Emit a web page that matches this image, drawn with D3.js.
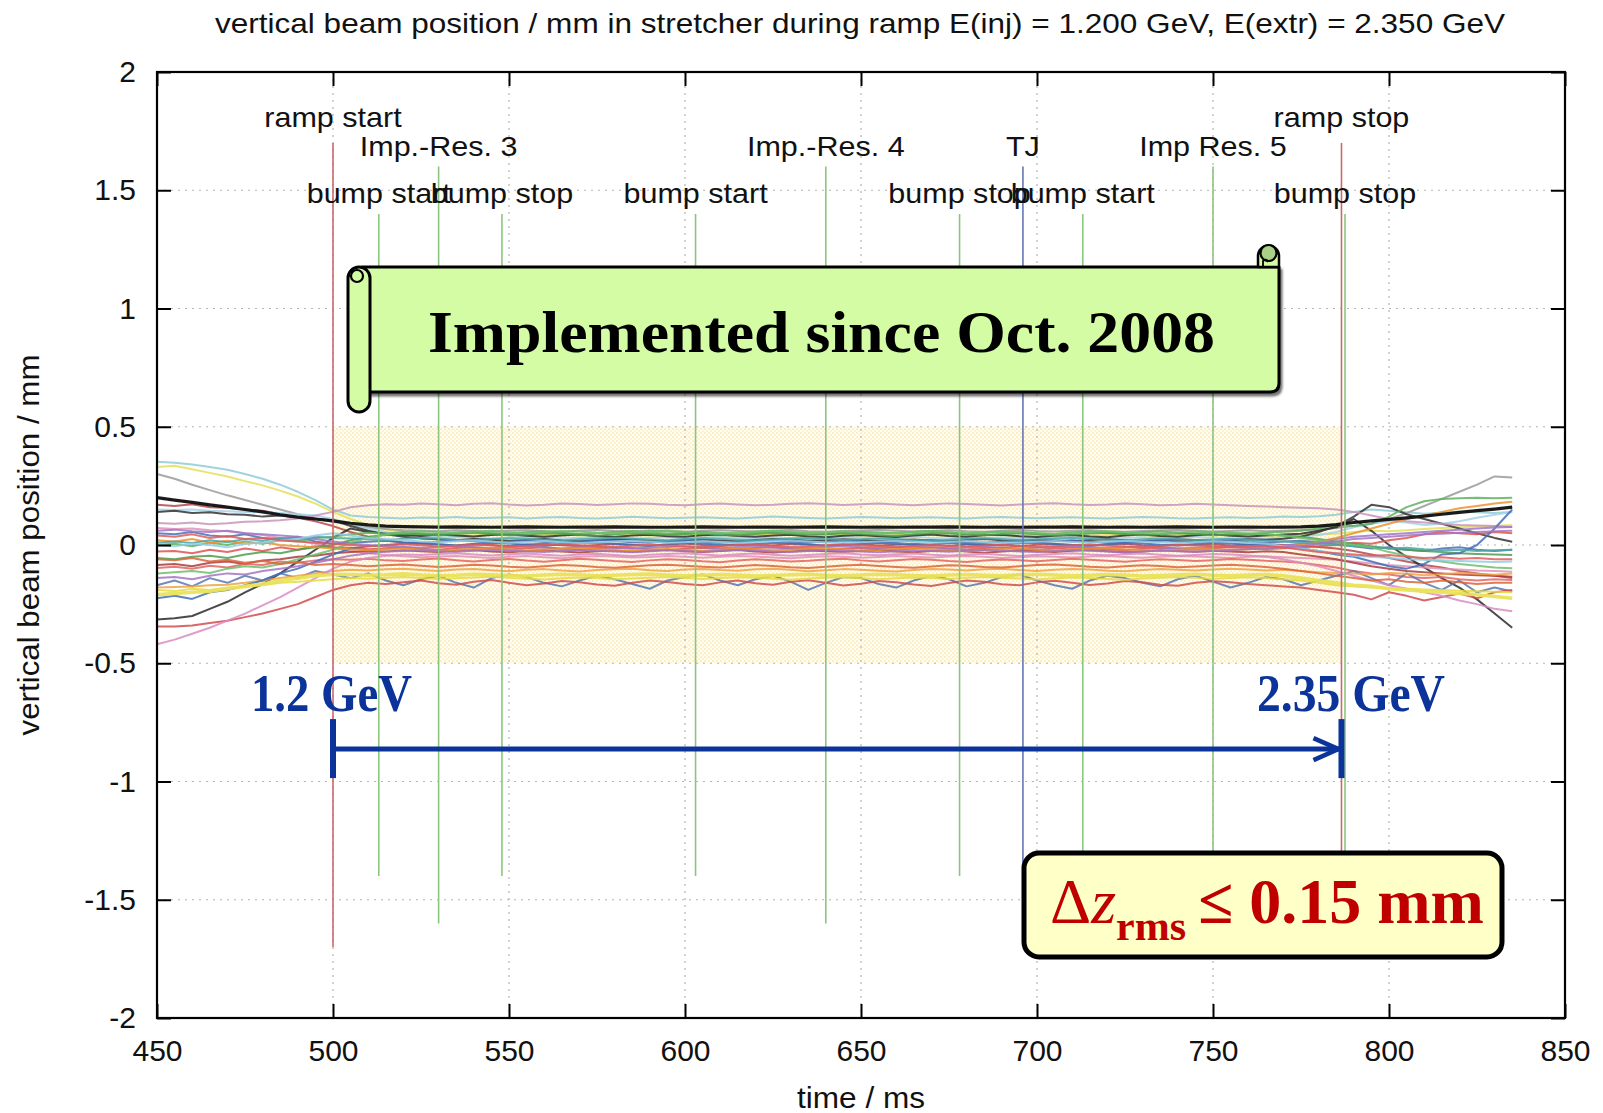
<!DOCTYPE html>
<html>
<head>
<meta charset="utf-8">
<script src="https://cdn.jsdelivr.net/npm/d3@7"></script>
<style>
  body { margin: 0; background: #fff; }
  svg { display: block; font-family: "Liberation Sans", Arial, sans-serif; }
  .serif { font-family: "Liberation Serif", "Times New Roman", serif; }
</style>
</head>
<body>
<svg id="chart" width="1603" height="1113"></svg>
<script>
// ---------------------------------------------------------------
// Vertical closed-orbit position at every BPM of the stretcher ring
// during the energy ramp, sampled every 5 ms. Values in micrometres.
// ---------------------------------------------------------------
const times = [
  450,455,460,465,470,475,480,485,490,495,
  500,505,510,515,520,525,530,535,540,545,
  550,555,560,565,570,575,580,585,590,595,
  600,605,610,615,620,625,630,635,640,645,
  650,655,660,665,670,675,680,685,690,695,
  700,705,710,715,720,725,730,735,740,745,
  750,755,760,765,770,775,780,785,790,795,
  800,805,810,815,820,825,830,835
];

const bpm01 = [200,190,180,170,160,150,140,128,118,110,102,
  92,85,80,78,77,76,77,76,75,76, 77,76,75,76,76,77,76,75,75,76, 77,76,75,76,76,75,76,77,76,75,
  76,75,76,76,77,76,75,76,75,76, 76,77,76,75,76,75,76,77,76,75, 76,76,75,76,77,80,86,
  95,102,108,115,122,130,138,145,152,160];
const bpm02 = [352,348,340,330,318,300,280,255,225,190,150,
  125,118,115,112,116,114,118,113,115,117, 112,116,118,114,112,115,119,116,113,115, 117,114,112,116,120,117,114,112,115,118,
  116,113,115,117,114,112,116,118,115,113, 115,117,114,112,115,118,116,113,112,115, 117,114,116,120,118,122,128,
  140,150,145,138,132,136,142,138,135,140];
const bpm03 = [330,335,320,305,290,270,252,230,205,175,140,
  110,85,65,55,48,45,42,40,44,41, 38,42,45,40,37,41,44,39,42,45, 41,38,40,43,46,42,39,41,44,40,
  38,41,45,42,39,40,43,41,38,42, 45,41,39,42,44,40,38,41,43,40, 42,45,41,38,40,44,48,
  55,60,58,62,68,72,75,78,80,85];
const bpm04 = [300,280,255,232,210,190,170,150,130,112,98,
  85,75,68,62,60,58,62,59,57,60, 62,58,56,60,63,59,57,61,58,56, 60,62,59,57,60,63,58,56,59,61,
  63,60,57,59,62,58,56,60,63,59, 57,60,62,58,56,59,61,63,60,57, 59,62,58,60,63,66,72,
  80,90,110,135,165,195,225,255,290,285];
const bpm05 = [170,165,172,160,158,150,145,130,115,100,80,
  55,35,20,10,5,2,-2,3,0,-4, 2,5,-1,-5,0,4,1,-3,2,6, 0,-4,3,1,-2,5,2,-3,0,4,
  -2,1,5,0,-4,2,3,-1,-5,1, 4,0,-3,2,5,-1,-4,2,0,3, -2,1,4,0,-3,-8,-15,
  -25,-40,-55,-70,-85,-95,-110,-120,-130,-140];
const bpm06 = [150,148,150,145,143,140,138,135,130,125,110,
  90,70,55,45,38,32,35,30,28,32, 35,30,27,31,34,29,26,30,33,28, 31,35,30,27,32,29,26,30,34,31,
  28,32,35,30,27,31,29,33,30,27, 31,34,29,26,30,33,28,31,35,30, 27,31,28,32,36,42,55,
  75,90,100,95,85,90,100,115,128,140];
const bpm07 = [-315,-310,-300,-270,-240,-200,-165,-120,-70,-20,30,
  70,55,48,42,38,44,40,36,42,45, 39,35,40,44,38,34,40,43,37,35, 41,44,38,35,40,43,36,33,39,42,
  37,34,40,44,38,35,41,43,37,34, 39,42,36,33,40,44,38,35,41,45, 39,36,40,44,48,60,75,
  110,60,0,-50,-95,-140,-180,-230,-290,-350];
const bpm08 = [140,145,135,138,130,128,120,125,115,110,105,
  80,60,45,35,28,24,20,25,22,18, 21,25,19,16,20,24,22,18,15,20, 23,19,16,21,25,22,18,20,24,21,
  17,20,23,19,16,21,25,20,18,22, 19,16,21,24,20,17,19,23,21,18, 20,24,22,26,35,55,80,
  120,170,160,130,110,90,70,50,30,14];
const bpm09 = [93,90,95,88,92,98,100,105,112,125,140,
  160,168,172,170,175,172,168,174,177,171, 167,170,175,173,169,172,176,174,170,168, 172,175,171,168,170,174,177,173,169,172,
  175,171,168,172,176,173,170,167,171,174, 177,172,169,171,175,172,168,170,174,171, 168,165,163,160,158,155,150,
  140,125,110,100,95,90,85,82,80,76];
const bpm10 = [72,68,70,62,58,50,42,30,18,5,-10,
  -25,-35,-42,-48,-52,-49,-46,-51,-55,-50, -47,-52,-56,-50,-46,-49,-53,-51,-47,-50, -54,-50,-46,-49,-53,-56,-51,-48,-50,-54,
  -51,-47,-50,-53,-49,-46,-50,-55,-52,-48, -50,-53,-49,-47,-51,-54,-50,-46,-49,-52, -55,-50,-48,-52,-55,-58,-62,
  -70,-78,-85,-90,-95,-100,-104,-108,-110,-113];
const bpm11 = [50,45,55,40,35,45,30,25,35,15,5,
  10,14,18,12,8,15,20,16,11,14, 19,13,9,15,21,17,12,10,16,20, 14,9,13,18,22,15,11,14,19,16,
  10,13,18,21,15,11,9,14,18,13, 16,20,14,10,13,17,21,15,12,16, 19,13,10,15,18,12,5,
  -5,-15,-10,-20,-25,-15,-10,-20,-25,-20];
const bpm12 = [0,5,-5,10,0,15,5,20,15,30,35,
  45,52,48,55,50,46,53,57,51,48, 54,58,52,47,50,55,59,53,49,52, 56,51,47,53,58,54,50,46,52,56,
  53,49,55,59,52,48,51,56,54,50, 47,53,57,51,48,54,58,52,49,55, 51,48,52,56,60,70,85,
  80,90,120,160,185,195,198,200,198,200];
const bpm13 = [-28,-25,-35,-20,-30,-15,-25,-10,-20,-5,-10,
  -12,-18,-14,-10,-16,-20,-13,-9,-15,-19, -14,-10,-17,-21,-15,-11,-13,-18,-22,-16, -12,-15,-19,-13,-9,-14,-18,-21,-16,-12,
  -17,-20,-14,-10,-15,-19,-13,-11,-16,-20, -15,-11,-14,-18,-22,-16,-12,-15,-19,-14, -10,-13,-17,-14,-10,-5,0,
  10,5,20,30,45,55,50,45,55,50];
const bpm14 = [-55,-60,-50,-45,-55,-40,-30,-35,-20,-10,0,
  20,35,42,48,45,40,47,52,46,41, 44,50,48,43,39,45,51,47,42,46, 49,44,40,46,52,48,43,45,50,47,
  42,38,45,51,49,44,41,46,50,45, 40,44,49,52,47,42,45,50,46,41, 44,48,45,40,35,25,15,
  5,-5,-15,-20,-25,-30,-35,-38,-40,-42];
const bpm15 = [-85,-80,-90,-75,-70,-80,-65,-60,-50,-45,-35,
  -30,-25,-28,-22,-26,-30,-24,-21,-27,-31, -25,-22,-28,-32,-26,-23,-29,-24,-20,-26, -30,-25,-21,-27,-32,-28,-23,-26,-30,-24,
  -21,-27,-31,-25,-22,-28,-33,-27,-23,-26, -30,-24,-21,-26,-31,-27,-22,-25,-29,-24, -27,-31,-26,-30,-40,-50,-60,
  -75,-90,-100,-110,-115,-120,-125,-128,-130,-134];
const bpm16 = [-97,-92,-100,-88,-95,-80,-85,-70,-75,-65,-60,
  -62,-58,-65,-68,-61,-57,-64,-70,-63,-59, -66,-71,-64,-58,-62,-68,-72,-65,-60,-63, -69,-73,-66,-60,-64,-70,-67,-61,-58,-65,
  -70,-64,-59,-62,-68,-72,-66,-61,-64,-69, -63,-58,-62,-67,-71,-65,-60,-63,-68,-64, -59,-62,-67,-70,-75,-85,-95,
  -110,-120,-125,-135,-140,-135,-145,-150,-145,-148];
const bpm17 = [-170,-150,-175,-140,-160,-130,-150,-120,-140,-110,-125,
  -140,-120,-150,-170,-145,-130,-160,-180,-140,-125, -135,-160,-175,-150,-130,-145,-165,-185,-150,-135, -125,-150,-170,-145,-130,-155,-190,-160,-135,-140,
  -165,-180,-150,-130,-145,-175,-160,-135,-125,-150, -170,-185,-150,-130,-140,-160,-175,-145,-130,-155, -180,-160,-135,-145,-170,-150,-130,
  -110,-140,-170,-120,-160,-190,-150,-200,-180,-197];
const bpm18 = [-180,-178,-175,-170,-168,-160,-150,-140,-130,-120,-110,
  -105,-108,-103,-100,-106,-110,-104,-101,-107,-111, -105,-102,-108,-112,-106,-103,-100,-107,-110,-104, -101,-106,-109,-103,-100,-105,-111,-107,-102,-105,
  -109,-112,-106,-101,-104,-108,-103,-100,-106,-110, -105,-101,-104,-109,-111,-106,-102,-105,-108,-104, -100,-104,-108,-105,-110,-115,-118,
  -120,-125,-118,-122,-128,-124,-118,-122,-126,-120];
const bpm19 = [-210,-205,-200,-195,-185,-175,-165,-150,-140,-130,-125,
  -125,-128,-126,-122,-127,-130,-128,-124,-126,-129, -131,-127,-124,-126,-130,-128,-125,-123,-127,-130, -128,-125,-127,-131,-129,-126,-124,-128,-130,-127,
  -124,-126,-129,-131,-127,-125,-128,-130,-126,-124, -127,-130,-128,-125,-127,-131,-129,-126,-124,-128, -130,-127,-125,-130,-140,-150,-160,
  -170,-175,-185,-190,-195,-200,-205,-210,-218,-225];
const bpm20 = [-225,-215,-228,-200,-190,-170,-150,-120,-100,-70,-40,
  -15,-5,0,5,8,3,-2,4,9,6, 1,-3,2,7,10,5,0,-4,3,8, 6,1,-2,4,9,7,2,-3,1,6,
  10,5,0,3,8,4,-1,2,7,9, 4,0,-3,3,8,6,1,-2,4,9, 6,2,0,-5,-15,-25,-40,
  -50,-70,-90,-100,-80,-40,-35,0,70,150];
const bpm21 = [-345,-345,-340,-330,-320,-305,-290,-270,-250,-220,-190,
  -170,-160,-165,-158,-150,-162,-168,-155,-148,-160, -170,-163,-152,-158,-167,-172,-160,-150,-156,-165, -170,-158,-150,-162,-168,-155,-149,-160,-171,-164,
  -152,-158,-167,-173,-161,-150,-155,-166,-170,-158, -151,-160,-169,-163,-152,-157,-168,-172,-160,-153, -158,-165,-170,-175,-180,-190,-200,
  -210,-230,-200,-215,-235,-220,-205,-225,-200,-190];
const bpm22 = [-420,-400,-375,-350,-320,-290,-255,-220,-180,-140,-100,
  -70,-55,-45,-40,-42,-38,-35,-40,-44,-39, -36,-41,-45,-40,-37,-42,-46,-41,-38,-35, -40,-44,-39,-36,-41,-45,-42,-38,-35,-40,
  -43,-39,-36,-41,-44,-40,-37,-42,-46,-41, -38,-35,-40,-43,-39,-36,-41,-45,-42,-38, -40,-44,-50,-60,-75,-90,-110,
  -130,-150,-170,-185,-200,-215,-235,-250,-270,-280];
const bpm23 = [60,65,58,55,60,50,45,40,35,25,15,
  5,0,-5,-8,-12,-8,-5,-10,-14,-9, -6,-11,-15,-10,-7,-12,-16,-11,-8,-5, -10,-14,-9,-6,-11,-15,-12,-8,-5,-10,
  -13,-9,-6,-11,-14,-10,-7,-12,-16,-11, -8,-5,-10,-13,-9,-6,-11,-15,-12,-8, -5,-10,-6,-2,5,15,25,
  35,40,45,50,55,60,65,70,74,76];
const bpm24 = [20,15,25,10,18,5,12,0,-5,-10,-15,
  -18,-22,-19,-15,-20,-24,-21,-17,-14,-19, -23,-20,-16,-13,-18,-22,-25,-20,-17,-21, -24,-19,-15,-18,-22,-20,-16,-14,-19,-23,
  -21,-17,-14,-18,-22,-25,-21,-17,-15,-20, -23,-19,-16,-13,-18,-21,-24,-20,-16,-19, -22,-18,-15,-10,0,15,30,
  50,70,90,110,125,140,155,165,175,183];
const bpm25 = [10,15,8,20,12,25,18,30,22,35,30,
  28,24,20,26,30,27,23,21,25,29, 26,22,19,24,28,31,27,23,20,25, 29,26,22,19,23,27,30,26,22,24,
  28,25,21,18,22,26,29,25,21,23, 27,30,26,22,19,24,28,25,21,23, 26,22,18,15,10,5,0,
  -5,-10,-15,-12,-18,-22,-20,-25,-22,-20];
const bpm26 = [-120,-115,-110,-118,-100,-90,-95,-80,-60,-40,-20,
  10,30,45,52,58,55,51,56,60,54, 50,55,59,57,52,49,54,58,61,56, 52,48,53,57,60,55,51,54,58,53,
  49,52,56,59,55,50,53,57,54,50, 47,52,55,58,54,51,49,53,57,55, 52,48,45,40,30,20,10,
  0,-10,-30,-45,-60,-70,-80,-88,-95,-98];
const bpm27 = [0,-5,5,0,-10,5,10,20,25,40,50,
  40,30,25,20,15,12,16,19,14,10, 13,17,12,8,11,15,18,14,10,12, 16,13,9,12,16,19,15,11,8,12,
  15,18,14,10,13,17,12,9,11,14, 17,13,10,14,18,15,11,8,12,16, 14,10,5,-5,-15,-25,-35,
  -45,-50,-55,-60,-62,-65,-68,-70,-72,-70];
const bpm28 = [-140,-135,-145,-130,-120,-125,-110,-100,-90,-75,-60,
  -45,-35,-28,-25,-22,-26,-29,-24,-20,-23, -27,-30,-25,-21,-24,-28,-31,-26,-22,-25, -29,-24,-20,-23,-27,-30,-25,-21,-24,-28,
  -31,-26,-22,-25,-29,-24,-20,-23,-27,-30, -25,-21,-24,-28,-32,-27,-23,-26,-29,-25, -21,-18,-15,-10,-5,5,15,
  25,30,35,40,45,48,52,55,58,60];
const bpm29 = [-190,-195,-185,-190,-180,-175,-170,-160,-155,-150,-145,
  -140,-143,-138,-135,-140,-144,-141,-137,-134,-139, -143,-146,-141,-137,-140,-145,-142,-138,-135,-140, -144,-140,-136,-139,-143,-147,-142,-138,-136,-141,
  -145,-141,-137,-140,-144,-139,-135,-138,-142,-146, -141,-137,-140,-144,-147,-142,-138,-135,-139,-143, -140,-136,-140,-145,-150,-160,-170,
  -175,-180,-182,-185,-188,-190,-193,-196,-198,-200];
const bpm30 = [40,35,45,30,38,25,30,20,15,10,5,
  0,-5,-2,3,-1,-6,-3,2,-2,-7, -4,0,3,-1,-5,-8,-3,1,-2,-6, -9,-4,0,2,-3,-7,-5,-1,3,-2,
  -6,-9,-4,0,-3,-7,-2,1,-4,-8, -5,-1,2,-3,-6,-9,-4,0,-2,-5, -8,-4,-6,-10,-20,-30,-35,
  -40,-45,-42,-50,-55,-52,-58,-55,-60,-60];
const bpm31 = [-60,-65,-55,-70,-62,-75,-68,-80,-72,-85,-80,
  -85,-90,-86,-82,-88,-93,-89,-84,-87,-92, -95,-90,-85,-88,-93,-96,-91,-86,-83,-88, -92,-95,-90,-85,-89,-94,-97,-92,-87,-84,
  -89,-93,-96,-91,-86,-88,-93,-95,-90,-85, -82,-87,-92,-95,-90,-86,-89,-94,-91,-87, -84,-88,-93,-100,-110,-120,-130,
  -140,-150,-145,-155,-160,-150,-158,-165,-160,-160];

// drawing order: thin traces first, the two thick reference traces last
const traces = [bpm02,bpm03,bpm04,bpm05,bpm06,bpm07,bpm08,bpm09,bpm10,bpm11,bpm12,bpm13,bpm14,bpm15,bpm16,
  bpm17,bpm18,bpm20,bpm21,bpm22,bpm23,bpm24,bpm25,bpm26,bpm27,bpm28,bpm29,bpm30,bpm31,bpm19,bpm01];
const traceColors = ["#8fcbd6","#e4df55","#9a9a9a","#b4484a","#a3d2ea","#2a2a2a","#333333","#c894b8","#e290b8",
  "#4c70b4","#5db35d","#dc5650","#4f9d50","#a83c3c","#e46464","#5a78b0","#f0a244","#3f6fb8","#d24c4c","#d98cc4",
  "#9c78c8","#ec922e","#4ea6a6","#6cc06c","#92cbe8","#a474c2","#e6da40","#e05c5c","#dc6438","#e9e35a","#111111"];

// event markers along the ramp
const markerTimes  = [500, 513, 530, 548, 603, 640, 678, 696, 713, 750, 786.5, 787.5];
const markerLabels = ["ramp start","bump start","Imp.-Res. 3","bump stop","bump start","Imp.-Res. 4",
                      "bump stop","TJ","bump start","Imp Res. 5","ramp stop","bump stop"];
const markerKinds  = ["ramp","bump","imp","bump","bump","imp","bump","tj","bump","imp","ramp","bump"];

// tolerance band (|z| <= 0.5 mm) during the ramp
const bandTimes = [500, 786.5];
const bandLimits = [-0.5, 0.5];

// energy arrow
const arrowTimes = [500, 786.5];
const arrowLevel = -0.863;
const energyLabels = ["1.2 GeV", "2.35 GeV"];

const xTicks = [450,500,550,600,650,700,750,800,850];
const xTickLabels = ["450","500","550","600","650","700","750","800","850"];
const yTicks = [-2,-1.5,-1,-0.5,0,0.5,1,1.5,2];
const yTickLabels = ["-2","-1.5","-1","-0.5","0","0.5","1","1.5","2"];

const titleText = "vertical beam position / mm in stretcher during ramp E(inj) = 1.200 GeV, E(extr) = 2.350 GeV";

// ---------------------------------------------------------------
const svg = d3.select("#chart");
const L = 157, R = 1565, T = 72, B = 1018;
const x = d3.scaleLinear().domain([450, 850]).range([L, R]);
const y = d3.scaleLinear().domain([-2, 2]).range([B, T]);

const defs = svg.append("defs");
const pat = defs.append("pattern").attr("id", "dots").attr("patternUnits", "userSpaceOnUse")
  .attr("width", 4).attr("height", 4);
pat.append("rect").attr("width", 4).attr("height", 4).attr("fill", "#fffdf4");
pat.append("rect").attr("width", 2).attr("height", 2).attr("fill", "#fcf0c2");
pat.append("rect").attr("x", 2).attr("y", 2).attr("width", 2).attr("height", 2).attr("fill", "#fdf3d0");

const shadow = defs.append("filter").attr("id", "shadow").attr("x", "-5%").attr("y", "-20%")
  .attr("width", "110%").attr("height", "140%");
shadow.append("feDropShadow").attr("dx", 2).attr("dy", 3).attr("stdDeviation", 1.2)
  .attr("flood-color", "#000").attr("flood-opacity", 0.55);

const soft = defs.append("filter").attr("id", "soft");
soft.append("feGaussianBlur").attr("stdDeviation", 0.45);

// tolerance band
svg.append("rect")
  .attr("x", x(bandTimes[0])).attr("y", y(bandLimits[1]))
  .attr("width", x(bandTimes[1]) - x(bandTimes[0]))
  .attr("height", y(bandLimits[0]) - y(bandLimits[1]))
  .attr("fill", "url(#dots)");

// grid
const grid = svg.append("g").attr("stroke", "#b4b4b4").attr("stroke-width", 1.2)
  .attr("stroke-dasharray", "2,5");
grid.selectAll(".gx").data(xTicks.slice(1, -1)).join("line")
  .attr("x1", d => x(d)).attr("x2", d => x(d)).attr("y1", T).attr("y2", B);
grid.selectAll(".gy").data(yTicks.slice(1, -1)).join("line")
  .attr("y1", d => y(d)).attr("y2", d => y(d)).attr("x1", L).attr("x2", R);

// orbit traces
const line = d3.line()
  .x((d, i) => x(times[i]))
  .y(d => y(d / 1000));
svg.append("g").attr("fill", "none").attr("stroke-linejoin", "round").attr("filter", "url(#soft)")
  .selectAll("path").data(traces).join("path")
  .attr("d", line)
  .attr("stroke", (d, i) => traceColors[i])
  .attr("stroke-width", (d, i) => i === traces.length - 1 ? 3.2 : (i === traces.length - 2 ? 3.6 : 2))
  .attr("stroke-opacity", (d, i) => i >= traces.length - 2 ? 0.95 : 0.85);

// event markers
const kindSpan  = { ramp: 1.7, imp: 1.6, tj: 1.6, bump: 1.4 };
const kindLabel = { ramp: 1.8, imp: 1.68, tj: 1.68, bump: 1.48 };
const kindColor = { ramp: "#cc6a6a", imp: "#8cc67e", tj: "#6677b0", bump: "#8cc67e" };
const mk = svg.append("g");
mk.selectAll("line").data(markerTimes).join("line")
  .attr("x1", d => x(d)).attr("x2", d => x(d))
  .attr("y1", (d, i) => y(kindSpan[markerKinds[i]]))
  .attr("y2", (d, i) => y(-kindSpan[markerKinds[i]]))
  .attr("stroke", (d, i) => kindColor[markerKinds[i]])
  .attr("stroke-width", 1.6);
mk.selectAll("text").data(markerTimes).join("text")
  .attr("x", d => x(d))
  .attr("y", (d, i) => y(kindLabel[markerKinds[i]]) + 8)
  .attr("text-anchor", "middle")
  .attr("font-size", 28)
  .attr("fill", "#111")
  .text((d, i) => markerLabels[i])
  .each(function () {
    const w = this.getComputedTextLength();
    d3.select(this).attr("textLength", w * 1.09).attr("lengthAdjust", "spacingAndGlyphs");
  });

// axes with inward ticks on all four sides
function styleAxis(g) {
  g.attr("font-family", null);
  g.select(".domain").remove();
  g.selectAll(".tick line").attr("stroke", "#000").attr("stroke-width", 2);
  g.selectAll(".tick text").attr("font-size", 30).attr("fill", "#111");
}
svg.append("g").attr("transform", `translate(0,${B})`)
  .call(d3.axisBottom(x).tickValues(xTicks).tickSizeInner(-14).tickSizeOuter(0).tickPadding(22)
    .tickFormat((d, i) => xTickLabels[i]))
  .call(styleAxis);
svg.append("g").attr("transform", `translate(0,${T})`)
  .call(d3.axisTop(x).tickValues(xTicks).tickSizeInner(-14).tickSizeOuter(0).tickFormat(""))
  .call(styleAxis);
svg.append("g").attr("transform", `translate(${L},0)`)
  .call(d3.axisLeft(y).tickValues(yTicks).tickSizeInner(-14).tickSizeOuter(0).tickPadding(21)
    .tickFormat((d, i) => yTickLabels[i]))
  .call(styleAxis);
svg.append("g").attr("transform", `translate(${R},0)`)
  .call(d3.axisRight(y).tickValues(yTicks).tickSizeInner(-14).tickSizeOuter(0).tickFormat(""))
  .call(styleAxis);

svg.append("rect").attr("x", L).attr("y", T).attr("width", R - L).attr("height", B - T)
  .attr("fill", "none").attr("stroke", "#000").attr("stroke-width", 2.2);

// titles
svg.append("text").attr("x", 860).attr("y", 33).attr("text-anchor", "middle")
  .attr("font-size", 28).attr("fill", "#111").text(titleText)
  .attr("textLength", 1290).attr("lengthAdjust", "spacingAndGlyphs");
svg.append("text").attr("x", 861).attr("y", 1108).attr("text-anchor", "middle")
  .attr("font-size", 29).attr("fill", "#111").text("time / ms")
  .attr("textLength", 128).attr("lengthAdjust", "spacingAndGlyphs");
svg.append("text").attr("transform", "translate(39,545) rotate(-90)").attr("text-anchor", "middle")
  .attr("font-size", 29).attr("fill", "#111").text("vertical beam position / mm")
  .attr("textLength", 381).attr("lengthAdjust", "spacingAndGlyphs");

// ---------------------------------------------------------------
// scroll banner
const green = "#d4fca4";
const scroll = svg.append("g").attr("stroke", "#000").attr("stroke-linejoin", "round");
scroll.append("path")
  .attr("d", "M362,267 H1279 V383 Q1279,392 1270,392 H362 Z")
  .attr("fill", green).attr("stroke-width", 3).attr("filter", "url(#shadow)");
scroll.append("path")
  .attr("d", "M1258,267 V256 A10.5,10.5 0 0 1 1279,256 V267 Z")
  .attr("fill", green).attr("stroke-width", 2.5);
scroll.append("circle").attr("cx", 1268.5).attr("cy", 253).attr("r", 8)
  .attr("fill", "#a8d086").attr("stroke-width", 2.2);
scroll.append("path").attr("d", "M1263,267 V261 Q1266,258 1268,262")
  .attr("fill", "none").attr("stroke-width", 1.8);
scroll.append("rect").attr("x", 348).attr("y", 267).attr("width", 22).attr("height", 145)
  .attr("rx", 11).attr("fill", green).attr("stroke-width", 3);
scroll.append("circle").attr("cx", 357).attr("cy", 276).attr("r", 6)
  .attr("fill", green).attr("stroke-width", 2.2);
svg.append("text").attr("class", "serif").attr("x", 428).attr("y", 352)
  .attr("font-weight", "bold").attr("font-size", 60).attr("fill", "#000")
  .text("Implemented since Oct. 2008")
  .attr("textLength", 787).attr("lengthAdjust", "spacingAndGlyphs");

// energy arrow
const blue = "#0b3399";
const ay = y(arrowLevel);
const ax0 = x(arrowTimes[0]), ax1 = x(arrowTimes[1]);
const arrow = svg.append("g").attr("stroke", blue).attr("fill", "none");
arrow.append("line").attr("x1", ax0).attr("x2", ax1 - 2).attr("y1", ay).attr("y2", ay).attr("stroke-width", 5);
arrow.append("line").attr("x1", ax0).attr("x2", ax0).attr("y1", ay - 30).attr("y2", ay + 29).attr("stroke-width", 6);
arrow.append("line").attr("x1", ax1).attr("x2", ax1).attr("y1", ay - 30).attr("y2", ay + 29).attr("stroke-width", 6);
arrow.append("polyline")
  .attr("points", `${ax1 - 28},${ay - 11} ${ax1 - 3},${ay} ${ax1 - 28},${ay + 11}`)
  .attr("stroke-width", 4.5).attr("stroke-linejoin", "miter");
svg.selectAll(".elab").data(energyLabels).join("text")
  .attr("class", "serif")
  .attr("x", (d, i) => i === 0 ? 251 : 1257)
  .attr("y", 711)
  .attr("font-weight", "bold").attr("font-size", 52).attr("fill", blue)
  .text(d => d)
  .attr("textLength", (d, i) => i === 0 ? 161 : 188).attr("lengthAdjust", "spacingAndGlyphs");

// rms box
svg.append("rect").attr("x", 1024).attr("y", 853).attr("width", 478).attr("height", 104)
  .attr("rx", 15).attr("fill", "#ffffc8").attr("stroke", "#000").attr("stroke-width", 5);
const rms = svg.append("text").attr("class", "serif").attr("x", 1050).attr("y", 923)
  .attr("fill", "#c00000").attr("font-size", 64);
rms.append("tspan").text("Δ");
rms.append("tspan").attr("font-style", "italic").text("z");
rms.append("tspan").attr("font-weight", "bold").attr("font-size", 42).attr("dy", 17).text("rms");
rms.append("tspan").attr("font-weight", "bold").attr("dy", -17).attr("dx", 12).text("≤ 0.15 mm");
</script>
</body>
</html>
